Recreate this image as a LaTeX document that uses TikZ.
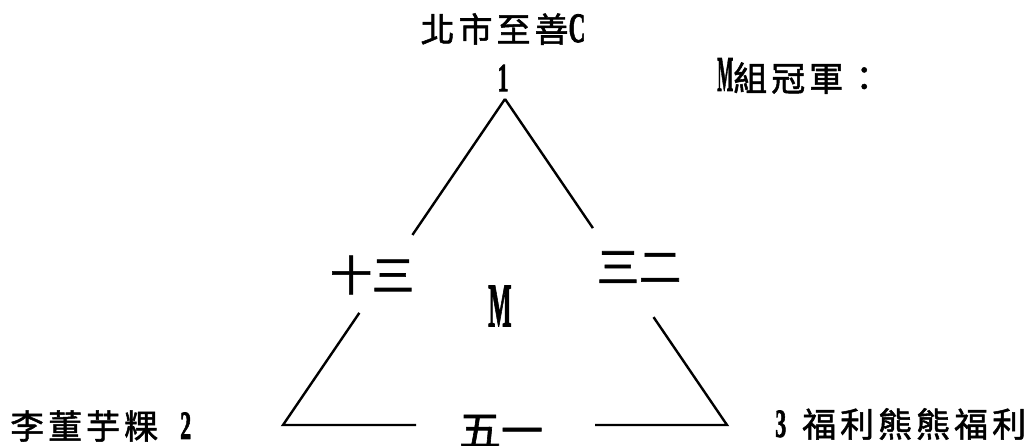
\documentclass[tikz,border=0pt]{standalone}
\usepackage{fontspec}
\usepackage{graphicx}
\usetikzlibrary{calc}
\setmainfont{Liberation Serif}
\newfontfamily\cjk{Noto Sans CJK TC}[FakeBold=1.5]
\newfontfamily\latb{Liberation Serif}[FakeBold=2]
\newcommand\nar[2]{\scalebox{#1}[1]{\latb\bfseries #2}}
\newcommand\gp{\hspace{4pt}}
\begin{document}
\begin{tikzpicture}[x=1pt,y=-1pt,
  edge/.style={line width=2.4pt, line join=miter},
  midlab/.style={inner sep=0pt, font=\cjk\fontsize{42}{42}\selectfont},
  teamlab/.style={inner sep=0pt, font=\cjk\fontsize{34}{34}\selectfont}]
\useasboundingbox (0,0) rectangle (1035,445);
\coordinate (apex) at (505,99);
\coordinate (bl) at (283,425);
\coordinate (br) at (727,425);
\draw[edge] (apex) -- ($(apex)!0.417!(bl)$);
\draw[edge] ($(apex)!0.656!(bl)$) -- (bl) -- ($(bl)!0.3!(br)$);
\draw[edge] ($(bl)!0.703!(br)$) -- (br) -- ($(br)!0.331!(apex)$);
\draw[edge] (apex) -- ($(apex)!0.396!(br)$);
\node[teamlab] (top) at (503,29) {北\gp 市\gp 至\gp 善\nar{0.55}{\fontsize{42}{42}\selectfont C}};
\node[inner sep=0pt] (one) at (503,78) {\nar{0.55}{\fontsize{40}{40}\selectfont 1}};
\node[teamlab, anchor=west] (champ) at (717,76) {\nar{0.34}{\fontsize{50}{50}\selectfont M}組\gp 冠\gp 軍\gp ：};
\node[midlab] (l13) at (372,275) {十三};
\node[midlab] (r32) at (639,267) {三二};
\node[inner sep=0pt] (m) at (500,306) {\nar{0.4}{\fontsize{62}{62}\selectfont M}};
\node[midlab] (w51) at (501,431) {五一};
\node[teamlab, anchor=west] (left) at (10,426) {李\gp 董\gp 芋\gp 粿\hspace{22pt}\nar{0.55}{\fontsize{40}{40}\selectfont 2}};
\node[teamlab, anchor=west] (right) at (775,424) {\nar{0.55}{\fontsize{40}{40}\selectfont 3}\hspace{16pt}福\gp 利\gp 熊\gp 熊\gp 福\gp 利};
\end{tikzpicture}
\end{document}
